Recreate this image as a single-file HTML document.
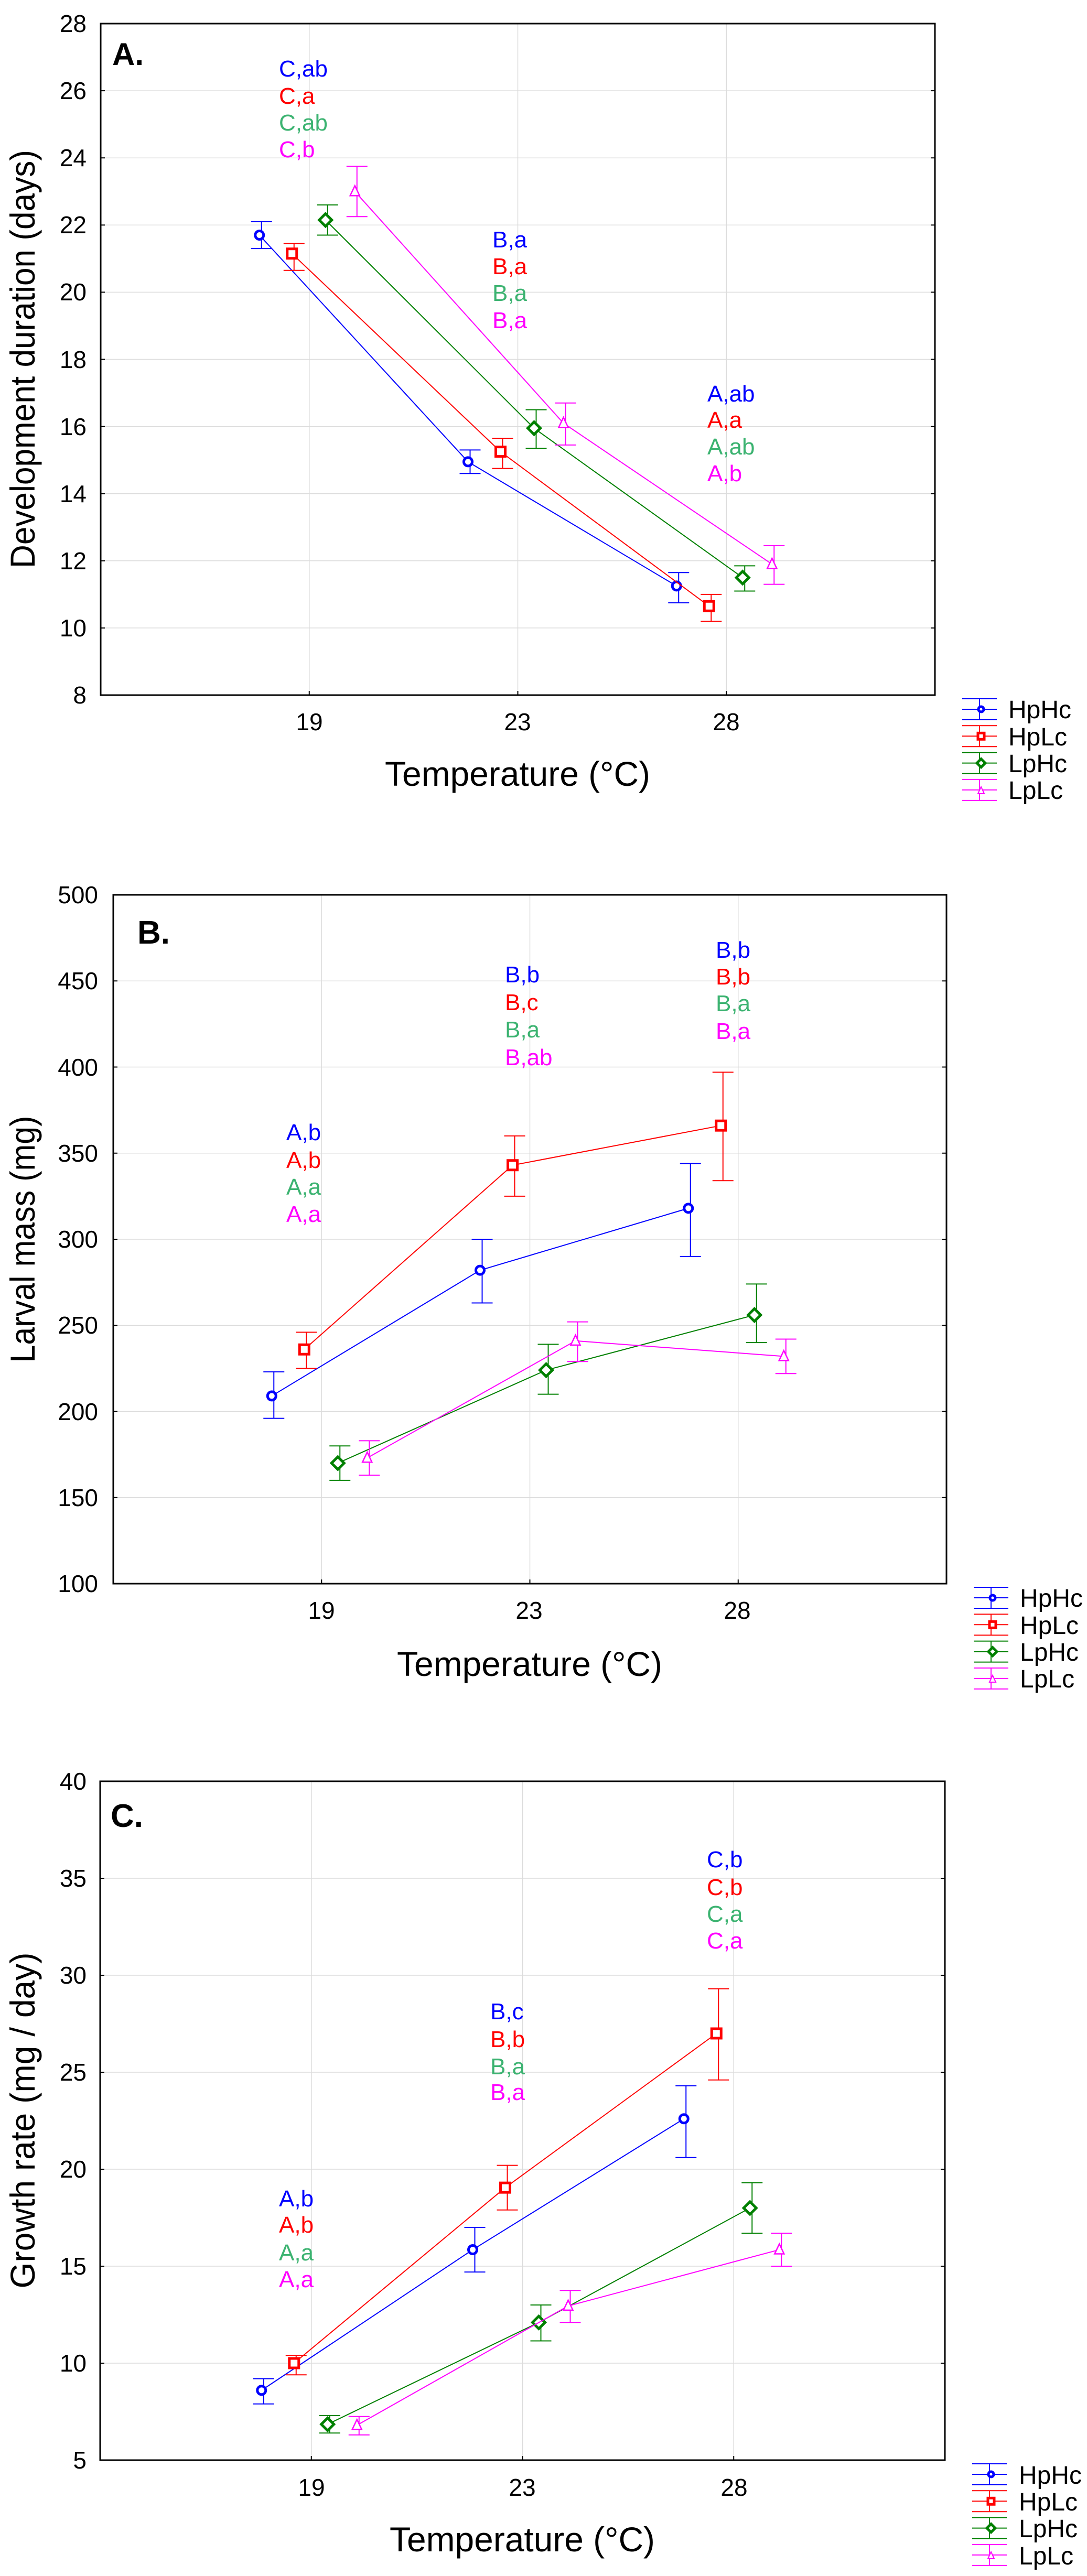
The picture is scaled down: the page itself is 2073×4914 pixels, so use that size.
<!DOCTYPE html>
<html><head><meta charset="utf-8"><style>
html,body{margin:0;padding:0;background:#fff;}
svg{display:block;font-family:"Liberation Sans",Arial,sans-serif;}
</style></head><body>
<svg id="s" width="2073" height="4914" viewBox="0 0 2073 4914" xmlns="http://www.w3.org/2000/svg">
<rect width="2073" height="4914" fill="#fff"/>
<g id="geo"></g>
<!-- Panel A text -->
<g font-size="46" text-anchor="end" fill="#000">
<text x="165" y="61">28</text><text x="165" y="189">26</text><text x="165" y="317">24</text><text x="165" y="445">22</text><text x="165" y="573">20</text><text x="165" y="702">18</text><text x="165" y="830">16</text><text x="165" y="958">14</text><text x="165" y="1086">12</text><text x="165" y="1214">10</text><text x="165" y="1342">8</text>
</g>
<g font-size="46" text-anchor="middle"><text x="590" y="1393">19</text><text x="987" y="1393">23</text><text x="1385" y="1393">28</text></g>
<text x="987" y="1499" font-size="66" text-anchor="middle" textLength="506" lengthAdjust="spacingAndGlyphs">Temperature (°C)</text>
<text transform="translate(66,685) rotate(-90)" font-size="66" text-anchor="middle" textLength="798" lengthAdjust="spacingAndGlyphs">Development duration (days)</text>
<text x="214" y="124" font-size="60" font-weight="bold">A.</text>
<g font-size="44">
<text x="532" y="146" fill="#0000ff">C,ab</text><text x="532" y="198" fill="#ff0000">C,a</text><text x="532" y="249" fill="#3cb371">C,ab</text><text x="532" y="300" fill="#ff00ff">C,b</text>
<text x="939" y="472" fill="#0000ff">B,a</text><text x="939" y="523" fill="#ff0000">B,a</text><text x="939" y="574" fill="#3cb371">B,a</text><text x="939" y="626" fill="#ff00ff">B,a</text>
<text x="1349" y="766" fill="#0000ff">A,ab</text><text x="1349" y="816" fill="#ff0000">A,a</text><text x="1349" y="867" fill="#3cb371">A,ab</text><text x="1349" y="918" fill="#ff00ff">A,b</text>
</g>
<g font-size="48"><text x="1923" y="1370">HpHc</text><text x="1923" y="1422">HpLc</text><text x="1923" y="1473">LpHc</text><text x="1923" y="1524">LpLc</text></g>

<!-- Panel B text -->
<g font-size="46" text-anchor="end">
<text x="187" y="1723">500</text><text x="187" y="1887">450</text><text x="187" y="2052">400</text><text x="187" y="2216">350</text><text x="187" y="2380">300</text><text x="187" y="2544">250</text><text x="187" y="2709">200</text><text x="187" y="2873">150</text><text x="187" y="3037">100</text>
</g>
<g font-size="46" text-anchor="middle"><text x="613" y="3088">19</text><text x="1009" y="3088">23</text><text x="1406" y="3088">28</text></g>
<text x="1010" y="3197" font-size="66" text-anchor="middle" textLength="506" lengthAdjust="spacingAndGlyphs">Temperature (°C)</text>
<text transform="translate(66,2364) rotate(-90)" font-size="66" text-anchor="middle" textLength="471" lengthAdjust="spacingAndGlyphs">Larval mass (mg)</text>
<text x="262" y="1800" font-size="62" font-weight="bold">B.</text>
<g font-size="44">
<text x="546" y="2175" fill="#0000ff">A,b</text><text x="546" y="2228" fill="#ff0000">A,b</text><text x="546" y="2279" fill="#3cb371">A,a</text><text x="546" y="2331" fill="#ff00ff">A,a</text>
<text x="963" y="1874" fill="#0000ff">B,b</text><text x="963" y="1927" fill="#ff0000">B,c</text><text x="963" y="1979" fill="#3cb371">B,a</text><text x="963" y="2032" fill="#ff00ff">B,ab</text>
<text x="1365" y="1827" fill="#0000ff">B,b</text><text x="1365" y="1878" fill="#ff0000">B,b</text><text x="1365" y="1929" fill="#3cb371">B,a</text><text x="1365" y="1982" fill="#ff00ff">B,a</text>
</g>
<g font-size="48"><text x="1945" y="3065">HpHc</text><text x="1945" y="3117">HpLc</text><text x="1945" y="3168">LpHc</text><text x="1945" y="3219">LpLc</text></g>

<!-- Panel C text -->
<g font-size="46" text-anchor="end">
<text x="165" y="3414">40</text><text x="165" y="3599">35</text><text x="165" y="3784">30</text><text x="165" y="3969">25</text><text x="165" y="4154">20</text><text x="165" y="4339">15</text><text x="165" y="4524">10</text><text x="165" y="4709">5</text>
</g>
<g font-size="46" text-anchor="middle"><text x="594" y="4761">19</text><text x="996" y="4761">23</text><text x="1400" y="4761">28</text></g>
<text x="996" y="4867" font-size="66" text-anchor="middle" textLength="506" lengthAdjust="spacingAndGlyphs">Temperature (°C)</text>
<text transform="translate(66,4045) rotate(-90)" font-size="66" text-anchor="middle" textLength="641" lengthAdjust="spacingAndGlyphs">Growth rate (mg / day)</text>
<text x="211" y="3485" font-size="62" font-weight="bold">C.</text>
<g font-size="44">
<text x="532" y="4209" fill="#0000ff">A,b</text><text x="532" y="4259" fill="#ff0000">A,b</text><text x="532" y="4312" fill="#3cb371">A,a</text><text x="532" y="4363" fill="#ff00ff">A,a</text>
<text x="935" y="3852" fill="#0000ff">B,c</text><text x="935" y="3905" fill="#ff0000">B,b</text><text x="935" y="3957" fill="#3cb371">B,a</text><text x="935" y="4006" fill="#ff00ff">B,a</text>
<text x="1348" y="3562" fill="#0000ff">C,b</text><text x="1348" y="3615" fill="#ff0000">C,b</text><text x="1348" y="3666" fill="#3cb371">C,a</text><text x="1348" y="3717" fill="#ff00ff">C,a</text>
</g>
<g font-size="48"><text x="1943" y="4738">HpHc</text><text x="1943" y="4789">HpLc</text><text x="1943" y="4840">LpHc</text><text x="1943" y="4892">LpLc</text></g>
</svg>
<script>
(function(){
var NS="http://www.w3.org/2000/svg",g=document.getElementById("geo");
function el(t,a){var e=document.createElementNS(NS,t);for(var k in a)e.setAttribute(k,a[k]);g.appendChild(e);return e;}
var cols=["#0000ff","#ff0000","#008000","#ff00ff"],offs=[-95,-33,31,87];
function marker(i,x,y){var c=cols[i];
 if(i==0)el("circle",{cx:x,cy:y,r:8,fill:"#fff",stroke:c,"stroke-width":5});
 else if(i==1)el("rect",{x:x-9,y:y-9,width:18,height:18,fill:"#fff",stroke:c,"stroke-width":5});
 else if(i==2)el("polygon",{points:(x)+","+(y-12)+" "+(x+12)+","+y+" "+x+","+(y+12)+" "+(x-12)+","+y,fill:"#fff",stroke:c,"stroke-width":5});
 else el("polygon",{points:x+","+(y-11)+" "+(x+9)+","+(y+8)+" "+(x-9)+","+(y+8),fill:"#fff",stroke:c,"stroke-width":2.5});}
function panel(p){
 var L=p.l,R=p.r,T=p.t,B=p.b,W=R-L;
 function Y(v){return T+(p.max-v)/(p.max-p.min)*(B-T);}
 for(var v=p.min+p.step;v<p.max-1e-9;v+=p.step){var y=Y(v);el("line",{x1:L,x2:R,y1:y,y2:y,stroke:"#dcdcdc","stroke-width":1.5});}
 var cx=[L+W/4,L+W/2,L+3*W/4];
 cx.forEach(function(x){el("line",{x1:x,x2:x,y1:T,y2:B,stroke:"#dcdcdc","stroke-width":1.5});});
 for(var v=p.min;v<=p.max+1e-9;v+=p.step){var y=Y(v);el("line",{x1:L,x2:L+8,y1:y,y2:y,stroke:"#000","stroke-width":2});el("line",{x1:R-8,x2:R,y1:y,y2:y,stroke:"#000","stroke-width":2});}
 cx.forEach(function(x){el("line",{x1:x,x2:x,y1:B-8,y2:B,stroke:"#000","stroke-width":2});});
 el("rect",{x:L,y:T,width:W,height:B-T,fill:"none",stroke:"#000","stroke-width":3});
 p.d.forEach(function(s,i){
  var pts=s.map(function(d,j){return [cx[j]+offs[i],Y(d[0])];});
  el("polyline",{points:pts.map(function(q){return q.join(",")}).join(" "),fill:"none",stroke:cols[i],"stroke-width":2});
  s.forEach(function(d,j){var x=pts[j][0]+4,y1=Y(d[1]),y2=Y(d[2]);
   el("line",{x1:x,x2:x,y1:y1,y2:y2,stroke:cols[i],"stroke-width":2});
   el("line",{x1:x-20,x2:x+20,y1:y1,y2:y1,stroke:cols[i],"stroke-width":2});
   el("line",{x1:x-20,x2:x+20,y1:y2,y2:y2,stroke:cols[i],"stroke-width":2});
   marker(i,pts[j][0],pts[j][1]);});
 });
 var lx=R+52;
 for(var i=0;i<4;i++){var y=B+27+i*51.3,c=cols[i];
  [-20,0,20].forEach(function(o){el("line",{x1:lx,x2:lx+66,y1:y+o,y2:y+o,stroke:c,"stroke-width":2});});
  el("line",{x1:lx+33,x2:lx+33,y1:y-20,y2:y+20,stroke:c,"stroke-width":2});
  if(i==0)el("circle",{cx:lx+36,cy:y,r:5,fill:"#fff",stroke:c,"stroke-width":5});
  else if(i==1)el("rect",{x:lx+30,y:y-6,width:12,height:12,fill:"#fff",stroke:c,"stroke-width":5});
  else if(i==2)el("polygon",{points:(lx+36)+","+(y-8)+" "+(lx+44)+","+y+" "+(lx+36)+","+(y+8)+" "+(lx+28)+","+y,fill:"#fff",stroke:c,"stroke-width":5});
  else el("polygon",{points:(lx+36)+","+(y-6)+" "+(lx+42)+","+(y+7)+" "+(lx+30)+","+(y+7),fill:"#fff",stroke:c,"stroke-width":2});
 }
}
panel({l:192,r:1783,t:45,b:1326,min:8,max:28,step:2,d:[
 [[21.7,21.3,22.1],[14.95,14.6,15.3],[11.25,10.75,11.65]],
 [[21.15,20.65,21.45],[15.25,14.75,15.65],[10.65,10.2,11.0]],
 [[22.15,21.7,22.6],[15.95,15.35,16.5],[11.5,11.1,11.85]],
 [[23.0,22.25,23.75],[16.1,15.45,16.7],[11.9,11.3,12.45]]]});
panel({l:216,r:1805,t:1707,b:3021,min:100,max:500,step:50,d:[
 [[209,196,223],[282,263,300],[318,290,344]],
 [[236,225,246],[343,325,360],[366,334,397]],
 [[170,160,180],[224,210,239],[256,240,274]],
 [[173,163,183],[241,229,252],[232,222,242]]]});
panel({l:191,r:1802,t:3398,b:4693,min:5,max:40,step:5,d:[
 [[8.6,7.9,9.2],[15.85,14.7,17.0],[22.6,20.6,24.3]],
 [[10.0,9.4,10.4],[19.05,17.9,20.2],[27.0,24.6,29.3]],
 [[6.85,6.4,7.3],[12.1,11.15,13.0],[18.0,16.7,19.3]],
 [[6.8,6.3,7.25],[12.95,12.1,13.75],[15.85,15.0,16.7]]]});
})();
</script>
</body></html>
